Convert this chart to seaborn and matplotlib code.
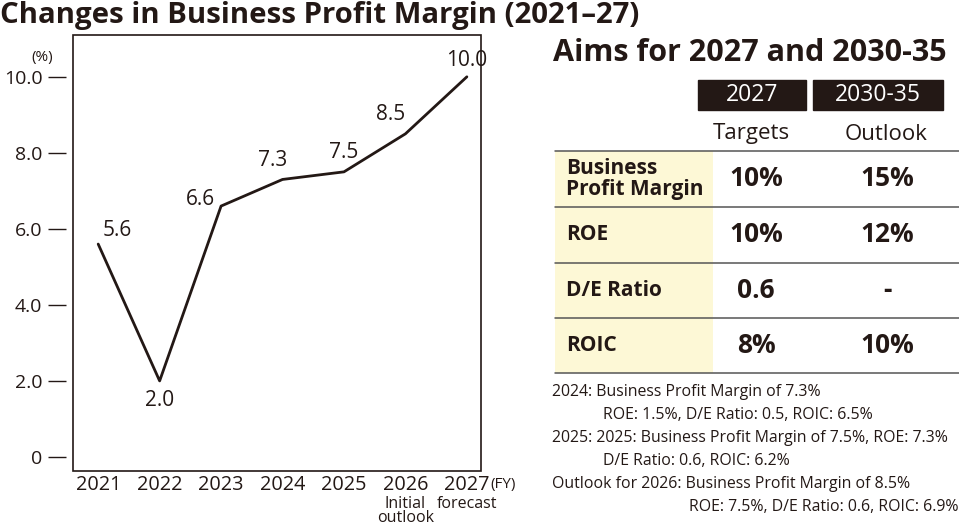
import matplotlib
matplotlib.use("Agg")
import matplotlib.pyplot as plt
import seaborn as sns
import pandas as pd
from matplotlib.patches import Rectangle

# data
years = ["2021", "2022", "2023", "2024", "2025", "2026", "2027"]
margin = [5.6, 2.0, 6.6, 7.3, 7.5, 8.5, 10.0]
sub_labels = ["", "", "", "", "", "Initial\noutlook", "forecast"]
yticks = [0, 2, 4, 6, 8, 10]
ytick_labels = ["0", "2.0", "4.0", "6.0", "8.0", "10.0"]

header_years = ["2027", "2030-35"]
header_kinds = ["Targets", "Outlook"]
row_names = ["Business\nProfit Margin", "ROE", "D/E Ratio", "ROIC"]
targets_2027 = ["10%", "10%", "0.6", "8%"]
outlook_2035 = ["15%", "12%", "-", "10%"]
notes = [
    "2024: Business Profit Margin of 7.3%",
    "ROE: 1.5%, D/E Ratio: 0.5, ROIC: 6.5%",
    "2025: 2025: Business Profit Margin of 7.5%, ROE: 7.3%",
    "D/E Ratio: 0.6, ROIC: 6.2%",
    "Outlook for 2026: Business Profit Margin of 8.5%",
    "ROE: 7.5%, D/E Ratio: 0.6, ROIC: 6.9%",
]
note_x = [552, 603, 552, 603, 552, 689]

ink = "#231815"
sns.set_theme(style="white")
plt.rcParams["font.family"] = ["Open Sans", "DejaVu Sans"]

W, H = 959, 527
fig = plt.figure(figsize=(W / 100, H / 100), dpi=100)

# overlay axes in pixel coordinates for free text / table
over = fig.add_axes([0, 0, 1, 1])
over.set_xlim(0, W)
over.set_ylim(H, 0)
over.axis("off")

# main line chart
ax = fig.add_axes([73 / W, (H - 471) / H, (481 - 73) / W, (471 - 35) / H])
df = pd.DataFrame({"pos": range(len(years)), "margin": margin})
sns.lineplot(data=df, x="pos", y="margin", ax=ax, color=ink, linewidth=2)
ax.set_xlim(-0.41, 6.23)
ax.set_ylim(-0.37, 11.1)
ax.set_xlabel("")
ax.set_ylabel("")
ax.patch.set_alpha(0)
for s in ax.spines.values():
    s.set_visible(False)
ax.add_patch(Rectangle((0, 0), 1, 1, transform=ax.transAxes, fill=False,
                       edgecolor=ink, linewidth=1.2, clip_on=False))
ax.spines["left"].set_visible(True)
ax.spines["left"].set_color("none")
ax.spines["left"].set_position(("outward", 5))
ax.set_yticks(yticks)
ax.set_yticklabels(ytick_labels)
ax.tick_params(axis="y", direction="out", length=13, width=1, color=ink,
               labelsize=14, labelcolor=ink, pad=4, left=True)
ax.set_xticks(range(len(years)))
ax.set_xticklabels(years)
ax.tick_params(axis="x", length=0, labelsize=14.3, labelcolor=ink, pad=3)

# value labels
offsets = [(14, 10), (0, -14), (-15, 5), (-7, 14), (0, 14), (-11, 14), (0, 12)]
for i, (v, off) in enumerate(zip(margin, offsets)):
    ax.annotate(f"{v:.1f}", (i, v), xytext=off, textcoords="offset points",
                ha="center", va="center", fontsize=15, color=ink)
for i, lab in enumerate(sub_labels):
    if lab:
        ax.annotate(lab, (i, 0), xycoords=("data", "axes fraction"),
                    xytext=(0, -18), textcoords="offset points", ha="center",
                    va="top", fontsize=11.5, color=ink, linespacing=0.8)
ax.annotate("(%)", (0, 1), xycoords="axes fraction", xytext=(-22, -16),
            textcoords="offset points", ha="center", va="center",
            fontsize=11, color=ink)
ax.annotate("(FY)", (1, 0), xycoords="axes fraction", xytext=(16, -10),
            textcoords="offset points", ha="center", va="center",
            fontsize=11, color=ink)

# titles
over.text(0, 15, "Changes in Business Profit Margin (2021\u201327)", fontsize=21.2,
          fontweight="bold", color=ink, va="center", ha="left")
over.text(553, 53, "Aims for 2027 and 2030-35", fontsize=22,
          fontweight="bold", color=ink, va="center", ha="left")

# table
box_x = [(698, 806), (813, 943)]
for (x0, x1), lab in zip(box_x, header_years):
    over.add_patch(Rectangle((x0, 80), x1 - x0, 30, color=ink))
    over.text((x0 + x1) / 2, 95, lab, color="white", fontsize=16.5,
              ha="center", va="center")
for x, lab in zip([751, 886], header_kinds):
    over.text(x, 134, lab, color=ink, fontsize=16, ha="center", va="center")
row_edges = [151, 207, 263, 318, 373]
over.add_patch(Rectangle((555, 151), 158, 373 - 151, color="#fdf8d6", lw=0))
for y in row_edges:
    over.plot([555, 959], [y, y], color="#555555", lw=1.1)
for i, (name, t, o) in enumerate(zip(row_names, targets_2027, outlook_2035)):
    yc = (row_edges[i] + row_edges[i + 1]) / 2
    over.text(566, yc, name, color=ink, fontsize=15, fontweight="bold",
              ha="left", va="center", linespacing=1.05)
    over.text(756, yc, t, color=ink, fontsize=19, fontweight="bold",
              ha="center", va="center")
    over.text(887, yc, o, color=ink, fontsize=19, fontweight="bold",
              ha="center", va="center")

for i, (x, line) in enumerate(zip(note_x, notes)):
    over.text(x, 392 + i * 23.0, line, color=ink, fontsize=11.4,
              ha="left", va="center")

fig.savefig("out.png", dpi=100)
